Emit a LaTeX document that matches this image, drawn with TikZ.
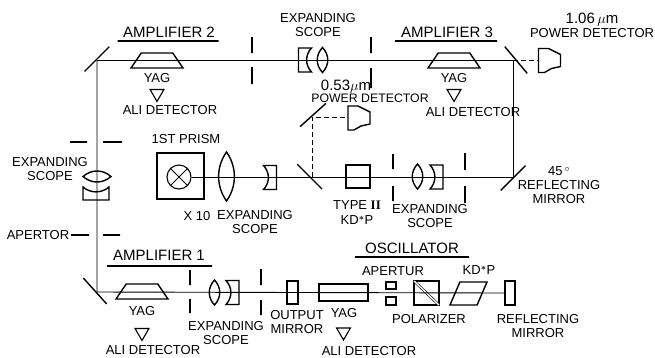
\documentclass[tikz,border=0pt]{standalone}
\usepackage{fontspec}
\setmainfont{Liberation Sans}
\newfontfamily\romanfont{Liberation Serif}
\usepackage{amsmath}
\usetikzlibrary{shapes.geometric}

\begin{document}
\begin{tikzpicture}[x=1pt, y=-1pt, node distance={15pt},
    lab/.style = {align=center, inner sep=0pt, font=\fontsize{13}{14}\selectfont},
    head/.style = {inner sep=0pt, font=\fontsize{15}{15}\selectfont},
    beam/.style = {line width=0.9pt},
    dashline/.style = {line width=0.9pt, dash pattern=on 5pt off 3pt},
    rule/.style = {draw, line width=1.4pt, minimum height=0pt, inner sep=0pt, outer sep=0pt, rectangle},
    slit/.style = {draw, line width=1.4pt, minimum width=0pt, inner sep=0pt, outer sep=0pt, rectangle},
    mirror/.style = {rule, minimum width=35pt},
    box/.style = {draw, line width=1.4pt, rectangle, inner sep=0pt, outer sep=0pt},
    amp/.style = {draw, line width=1.4pt, trapezium, trapezium stretches=true, trapezium left angle=72, trapezium right angle=72, minimum width=52pt, minimum height=15pt, inner sep=1pt, outer sep=0pt},
    tri/.style = {draw, line width=1.1pt, regular polygon, regular polygon sides=3, shape border rotate=180, minimum size=16pt, inner sep=0pt},
    convex/.pic = {\draw[line width=1.4pt] (0,-12.5) .. controls (-7,-5) and (-7,5) .. (0,12.5) .. controls (7,5) and (7,-5) .. (0,-12.5) -- cycle;},
    concave/.pic = {\draw[line width=1.4pt] (-6.5,-12) -- (6.5,-12) -- (6.5,12) -- (-6.5,12) .. controls (0,5) and (0,-5) .. (-6.5,-12) -- cycle;},
    detect/.pic = {\draw[line width=1.4pt] (-11,-12) -- (-1,-12) -- (11,-6) -- (11,6) -- (2,8) -- (-5,12) -- (-11,12) -- cycle;}]
    \useasboundingbox (0,0) rectangle (655,357);

    % mirrors
    \node[mirror, rotate=45] (mtl) at (97,59) {};
    \node[mirror, rotate=-50] (mtr) at (516,60) {};
    \node[mirror, rotate=45] (mmr) at (513,178) {};
    \node[mirror, rotate=-45] (mmd) at (309.5,176.5) {};
    \node[mirror, rotate=42] (mup) at (313,115) {};
    \node[mirror, rotate=-48] (mbl) at (95,291) {};
    \coordinate (ctl) at (97,60);
    \coordinate (ctr) at (513,60);
    \coordinate (cmr) at (513,177);
    \coordinate (cbl) at (97,292);
    \coordinate (cmd) at (312,177);
    \coordinate (cup) at (312,117);

    % top row
    \node[amp] (ampb) at (157,60.5) {};
    \node[lab] (yagb) [below of = ampb, yshift=-3pt] {YAG};
    \node[tri] (trib) [below of = yagb] {};
    \node[lab] (alib) at (170,110) {ALI DETECTOR};
    \node[head] (nameb) at (169,32) {AMPLIFIER 2};
    \node[rule, minimum width=101pt] (lineb) at (168,41) {};
    \node[slit, minimum height=16pt] (slita) at (252,45) {};
    \node[slit, minimum height=17pt] (slitb) at (252,75.5) {};
    \pic[xscale=-1] at (305,60) {concave};
    \pic at (322.5,60) {convex};
    \node[lab] (scopea) at (318,25) {EXPANDING\\SCOPE};
    \node[slit, minimum height=16pt] (slitc) at (371,45) {};
    \node[slit, minimum height=20pt] (slitd) at (371,78) {};
    \node[amp] (ampc) at (454,60.5) {};
    \node[lab] (yagc) [below of = ampc, yshift=-3pt] {YAG};
    \node[tri] (tric) [below of = yagc] {};
    \node[lab] (alic) at (473,112) {ALI DETECTOR};
    \node[head] (namec) at (447,32) {AMPLIFIER 3};
    \node[rule, minimum width=102pt] (linec) at (446,41) {};
    \pic at (549.5,60.5) {detect};
    \coordinate (dettop) at (538,60);
    \node[lab] (powa) at (592,25) {{\fontsize{15}{14}\selectfont 1.06\,$\mu$m}\\POWER DETECTOR};

    % middle row
    \node[box, minimum width=47pt, minimum height=46pt] (prism) at (180.5,176) {};
    \node[draw, circle, line width=1.1pt, minimum size=24pt, inner sep=0pt] (cross) at (179,177) {};
    \draw[line width=0.8pt] (cross.45) -- (cross.225);
    \draw[line width=0.8pt] (cross.135) -- (cross.315);
    \node[lab] (first) at (186,139) {1ST PRISM};
    \pic[xscale=1.5, yscale=1.96] at (226.5,176.5) {convex};
    \pic at (270,177.5) {concave};
    \node[lab] (tenx) at (197,216) {X 10};
    \node[lab] (scopeb) at (255,222.5) {EXPANDING\\SCOPE};
    \node[lab, font=\fontsize{12.3}{11.5}\selectfont] (powb) at (370,91.5) {\hspace*{-48pt}{\fontsize{15}{11.5}\selectfont 0.53$\mu$m}\\POWER DETECTOR};
    \pic at (359,118) {detect};
    \coordinate (detmid) at (348,117);
    \node[box, minimum width=24pt, minimum height=23pt] (typeb) at (358,176.5) {};
    \node[lab] (typel) at (357,212.5) {TYPE {\romanfont\bfseries II}\\[1pt]KD$^{\boldsymbol{*}}$P};
    \node[slit, minimum height=15pt] (slite) at (393,161.5) {};
    \node[slit, minimum height=15pt] (slitf) at (393,193.5) {};
    \pic at (417.5,176.5) {convex};
    \pic at (436.5,177) {concave};
    \node[slit, minimum height=17pt] (slitg) at (465,161.5) {};
    \node[slit, minimum height=17pt] (sliti) at (465,194.5) {};
    \node[lab] (scopec) at (430,216) {EXPANDING\\SCOPE};
    \node[lab] (refa) at (559,185.5) {45\,$^{\circ}$\\REFLECTING\\MIRROR};

    % left column
    \node[rule, minimum width=17pt] (dasha) at (78.5,142) {};
    \node[rule, minimum width=19pt] (dashb) at (112.5,142) {};
    \pic[rotate=90, yscale=1.12, xscale=1.05] at (97,176.5) {convex};
    \pic[rotate=-90, yscale=1.08, xscale=1.0] at (96,193.5) {concave};
    \node[lab] (scoped) at (50,169.5) {EXPANDING\\SCOPE};
    \node[lab] (apert) at (38,235) {APERTOR};
    \node[rule, minimum width=18pt] (dashc) at (80,235) {};
    \node[rule, minimum width=17pt] (dashd) at (111.5,235) {};

    % bottom row
    \node[amp] (ampa) at (142,291.5) {};
    \node[lab] (yaga) [below of = ampa, yshift=-5pt] {YAG};
    \node[tri] (tria) [below of = yaga, yshift=-6pt] {};
    \node[lab] (alia) at (153,350) {ALI DETECTOR};
    \node[head] (namea) at (159,255) {AMPLIFIER 1};
    \node[rule, minimum width=105pt] (linea) at (159.5,266) {};
    \node[slit, minimum height=15pt] (slitj) at (190,277.5) {};
    \node[slit, minimum height=14pt] (slitk) at (190,306) {};
    \pic at (214.5,292.5) {convex};
    \pic at (232.5,292.5) {concave};
    \node[slit, minimum height=16pt] (slitl) at (261,277) {};
    \node[slit, minimum height=15pt] (slitm) at (261,307.5) {};
    \node[lab] (scopee) at (226,333.5) {EXPANDING\\SCOPE};
    \node[box, minimum width=11pt, minimum height=23pt] (outm) at (292.5,292.5) {};
    \node[lab] (outl) at (297,322.5) {OUTPUT\\MIRROR};
    \node[box, minimum width=49pt, minimum height=17pt] (rod) at (343.5,292.5) {};
    \node[lab] (yagd) at (344,313) {YAG};
    \node[tri] (trid) at (343.5,332) {};
    \node[lab] (alid) at (369,351) {ALI DETECTOR};
    \node[lab] (apertu) at (393,271) {APERTUR};
    \node[box, minimum width=10pt, minimum height=7pt] (holea) at (391,285.5) {};
    \node[box, minimum width=10pt, minimum height=8pt] (holeb) at (391,301) {};
    \node[box, minimum width=25pt, minimum height=24pt] (polar) at (426.5,293) {};
    \draw[line width=0.6pt, double, double distance=1.4pt] (polar.north west) -- (polar.south east);
    \node[lab] (polarl) at (429,319) {POLARIZER};
    \node[draw, line width=1.4pt, trapezium, trapezium stretches=true, trapezium left angle=60, trapezium right angle=120, minimum width=37pt, minimum height=23pt, inner sep=1pt, outer sep=0pt] (kdp) at (468.5,293.5) {};
    \node[lab] (kdpl) at (479,270) {KD$^{\boldsymbol{*}}$P};
    \node[box, minimum width=10pt, minimum height=24pt] (refm) at (510,293) {};
    \node[lab] (refb) at (538,326.5) {REFLECTING\\MIRROR};
    \node[head] (namev) at (412,248) {OSCILLATOR};
    \node[rule, minimum width=114pt] (linev) at (412,257) {};

    % beams
    \draw[beam] (ctl) -- (ctr) -- (cmr) -- (cross.east);
    \draw[beam] (ctl) -- (cbl) -- (refm.west);
    \draw[dashline] (ctr) -- (dettop);
    \draw[dashline] (cmd) -- (cup) -- (detmid);
\end{tikzpicture}
\end{document}
